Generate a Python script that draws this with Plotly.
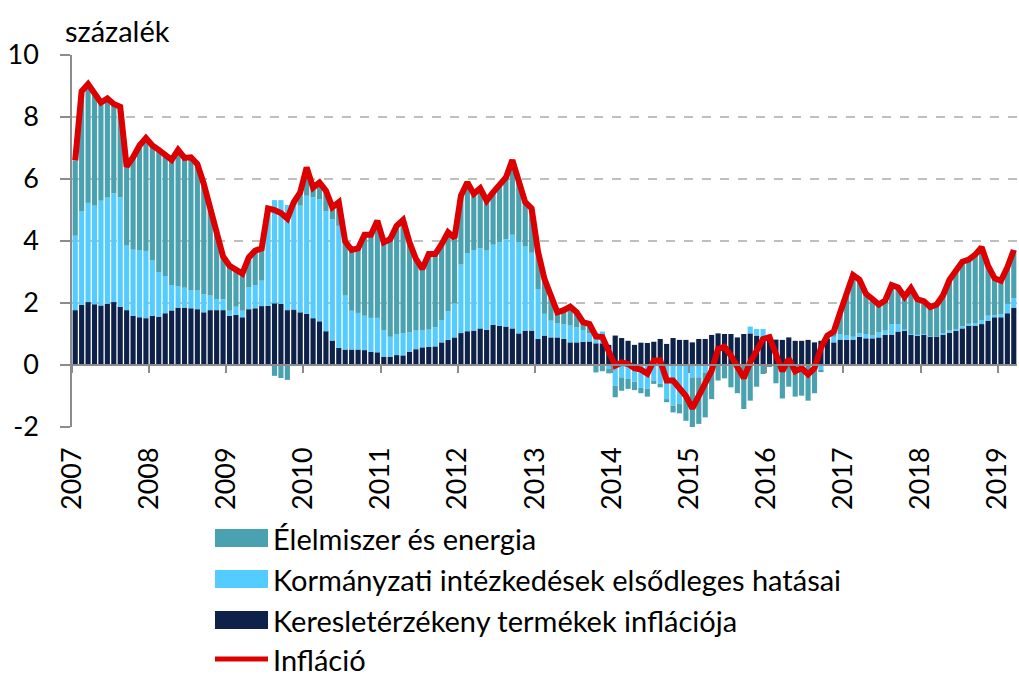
import plotly.graph_objects as go

# Monthly data, Jan 2007 - Mar 2019 (percent)
years = ["2007", "2008", "2009", "2010", "2011", "2012", "2013",
         "2014", "2015", "2016", "2017", "2018", "2019"]

demand = [
    1.77, 1.94, 2.03, 1.96, 1.92, 1.98, 2.03, 1.88, 1.77, 1.59, 1.54, 1.51,   # 2007
    1.59, 1.56, 1.67, 1.76, 1.85, 1.85, 1.83, 1.80, 1.70, 1.77, 1.77, 1.77,   # 2008
    1.59, 1.62, 1.54, 1.80, 1.83, 1.90, 1.91, 1.99, 1.97, 1.77, 1.79, 1.70,   # 2009
    1.65, 1.51, 1.41, 1.09, 0.79, 0.55, 0.50, 0.50, 0.50, 0.48, 0.43, 0.41,   # 2010
    0.27, 0.27, 0.32, 0.31, 0.43, 0.51, 0.57, 0.58, 0.60, 0.73, 0.81, 0.89,   # 2011
    1.03, 1.09, 1.11, 1.18, 1.13, 1.29, 1.26, 1.24, 1.18, 1.02, 1.11, 1.11,   # 2012
    0.84, 0.95, 0.89, 0.89, 0.84, 0.73, 0.73, 0.75, 0.76, 0.70, 0.70, 0.65,   # 2013
    0.95, 0.87, 0.78, 0.65, 0.72, 0.71, 0.75, 0.84, 0.68, 0.87, 0.81, 0.81,   # 2014
    0.73, 0.84, 0.84, 0.97, 1.02, 1.00, 1.00, 0.89, 1.00, 1.02, 0.95, 0.91,   # 2015
    0.95, 0.82, 0.81, 0.89, 0.78, 0.78, 0.81, 0.73, 0.78, 0.84, 0.73, 0.82,   # 2016
    0.81, 0.82, 0.91, 0.86, 0.86, 0.89, 0.97, 0.98, 1.08, 1.11, 0.98, 0.95,   # 2017
    0.98, 0.92, 0.91, 0.98, 1.04, 1.11, 1.18, 1.28, 1.27, 1.32, 1.43, 1.54,   # 2018
    1.54, 1.67, 1.85,                                                         # 2019
]

government = [
    2.40, 3.01, 3.20, 3.18, 3.38, 3.42, 3.51, 3.53, 2.08, 2.13, 2.17, 2.17,
    1.78, 1.44, 1.20, 0.82, 0.69, 0.64, 0.59, 0.60, 0.58, 0.47, 0.36, 0.35,
    0.16, 0.26, 0.21, 0.70, 0.75, 0.82, 3.09, 3.33, 3.35, 3.39, 3.40, 3.44,
    3.81, 3.90, 3.94, 3.87, 3.91, 3.94, 1.74, 1.25, 1.18, 1.11, 1.09, 1.11,
    0.86, 0.64, 0.68, 0.72, 0.62, 0.60, 0.56, 0.56, 0.62, 0.72, 0.92, 1.10,
    2.21, 2.52, 2.60, 2.59, 2.56, 2.59, 2.70, 2.82, 3.02, 2.93, 2.71, 2.51,
    1.61, 0.70, 0.54, 0.45, 0.48, 0.54, 0.49, 0.38, 0.26, 0.35, 0.38, -0.13,
    -0.67, -0.40, -0.45, -0.54, -0.74, -0.77, -0.50, -0.61, -1.10, -1.31, -1.26, -1.00,
    -0.40, -0.40, -0.24, -0.10, 0.00, 0.00, 0.00, 0.00, 0.00, 0.22, 0.21, 0.25,
    0.00, 0.00, 0.00, 0.00, 0.00, 0.00, 0.00, 0.00, -0.18, 0.05, 0.18, 0.18,
    0.14, 0.09, 0.11, 0.14, 0.09, 0.16, 0.14, 0.34, 0.24, 0.04, 0.02, 0.03,
    0.02, 0.01, 0.00, 0.05, 0.07, 0.05, 0.07, 0.05, 0.08, 0.13, 0.16, 0.07,
    0.10, 0.30, 0.30,
]

food_energy = [
    2.43, 3.88, 3.83, 3.60, 3.17, 3.20, 2.88, 2.92, 2.55, 2.98, 3.37, 3.64,
    3.71, 3.94, 3.88, 4.04, 4.40, 4.19, 4.28, 4.08, 3.56, 2.85, 2.10, 1.38,
    1.45, 1.17, 1.20, 0.97, 1.11, 1.04, 0.05, -0.35, -0.42, -0.48, 0.06, 0.43,
    0.91, 0.31, 0.54, 0.66, 0.39, 0.76, 1.74, 1.96, 2.08, 2.61, 2.68, 3.13,
    2.83, 3.15, 3.49, 3.65, 2.91, 2.31, 1.97, 2.44, 2.36, 2.45, 2.55, 2.11,
    2.22, 2.28, 1.81, 1.93, 1.61, 1.69, 1.82, 1.99, 2.41, 2.05, 1.43, 1.43,
    1.20, 1.12, 0.75, 0.36, 0.45, 0.61, 0.48, 0.25, 0.30, -0.24, -0.20, -0.14,
    -0.37, -0.43, -0.32, -0.27, -0.17, -0.25, -0.11, -0.11, -0.10, -0.22, -0.30, -0.80,
    -1.66, -1.50, -1.45, -1.00, -0.50, -0.43, -0.72, -0.91, -1.42, -1.15, -0.70, -0.29,
    -0.05, -0.59, -1.08, -0.70, -1.02, -0.99, -1.15, -0.91, -0.05, 0.10, 0.17, 0.70,
    1.35, 1.99, 1.73, 1.30, 1.18, 0.90, 0.97, 1.26, 1.18, 1.05, 1.48, 1.14,
    1.06, 0.94, 1.04, 1.22, 1.64, 1.89, 2.08, 2.07, 2.21, 2.35, 1.61, 1.19,
    1.08, 1.18, 1.56,
]

inflation = [
    6.60, 8.83, 9.06, 8.74, 8.47, 8.60, 8.42, 8.33, 6.40, 6.70, 7.08, 7.32,
    7.08, 6.94, 6.75, 6.62, 6.94, 6.68, 6.70, 6.48, 5.84, 5.09, 4.23, 3.50,
    3.20, 3.05, 2.95, 3.47, 3.69, 3.76, 5.05, 5.00, 4.90, 4.72, 5.25, 5.57,
    6.37, 5.72, 5.89, 5.62, 5.09, 5.25, 3.98, 3.71, 3.76, 4.20, 4.20, 4.65,
    3.96, 4.06, 4.49, 4.68, 3.96, 3.42, 3.10, 3.58, 3.58, 3.90, 4.28, 4.10,
    5.46, 5.89, 5.52, 5.70, 5.30, 5.57, 5.78, 6.05, 6.61, 6.00, 5.25, 5.05,
    3.65, 2.77, 2.18, 1.70, 1.77, 1.88, 1.70, 1.38, 1.32, 0.92, 0.90, 0.45,
    -0.02, 0.08, 0.03, -0.10, -0.15, -0.28, 0.14, 0.15, -0.50, -0.50, -0.75, -1.00,
    -1.40, -1.00, -0.56, -0.18, 0.52, 0.59, 0.30, -0.05, -0.42, 0.09, 0.50, 0.84,
    0.90, 0.30, -0.20, 0.20, -0.20, -0.10, -0.30, -0.10, 0.55, 0.95, 1.08, 1.70,
    2.30, 2.90, 2.75, 2.30, 2.13, 1.95, 2.08, 2.58, 2.50, 2.20, 2.48, 2.12,
    2.06, 1.87, 1.95, 2.25, 2.75, 3.05, 3.33, 3.40, 3.56, 3.80, 3.20, 2.80,
    2.72, 3.15, 3.71,
]

names = ["Élelmiszer és energia",
         "Kormányzati intézkedések elsődleges hatásai",
         "Keresletérzékeny termékek inflációja",
         "Infláció"]
colors = ["#4AA1B0", "#55CCFF", "#0E2148", "#DD0000"]

n = len(inflation)
xpos = [i + 0.5 for i in range(n)]
year_ticks = [12 * k for k in range(len(years))]

FONT = "Lato, 'Open Sans', sans-serif"
FS = 27      # axis tick labels
FS_TXT = 29  # legend and unit label

fig = go.Figure()
fig.add_trace(go.Bar(x=xpos, y=demand, name=names[2], marker=dict(color=colors[2], line=dict(width=0)), showlegend=False))
fig.add_trace(go.Bar(x=xpos, y=government, name=names[1], marker=dict(color=colors[1], line=dict(width=0)), showlegend=False))
fig.add_trace(go.Bar(x=xpos, y=food_energy, name=names[0], marker=dict(color=colors[0], line=dict(width=0)), showlegend=False))
fig.add_trace(go.Scatter(x=xpos, y=inflation, name=names[3], mode="lines",
                         line=dict(color=colors[3], width=6), showlegend=False))
# helper trace so the zero-level axis (ticks at year boundaries) is drawn
fig.add_trace(go.Scatter(x=[0], y=[0], xaxis="x2", mode="markers",
                         marker=dict(opacity=0), hoverinfo="skip", showlegend=False))

axis_grey = "#8C8C8C"
L, R, T, B = 72, 2, 55, 251
W, H = 1019, 678
fig.update_layout(
    width=W, height=H,
    margin=dict(l=L, r=R, t=T, b=B),
    plot_bgcolor="white", paper_bgcolor="white",
    barmode="relative", bargap=0.2,
    font=dict(family=FONT, size=FS, color="black"),
    xaxis=dict(range=[0, n], tickvals=year_ticks, ticktext=years, tickangle=-90,
               showgrid=False, zeroline=False, showline=False, ticks="",
               tickfont=dict(size=FS), ticklabelstandoff=14),
    xaxis2=dict(range=[0, n], overlaying="x", anchor="free", position=2 / 12,
                tickvals=year_ticks, showticklabels=False, ticks="outside",
                ticklen=7, tickwidth=2, tickcolor=axis_grey, showline=True,
                linecolor=axis_grey, linewidth=2, showgrid=False, zeroline=False),
    yaxis=dict(range=[-2, 10], tickvals=[-2, 0, 2, 4, 6, 8, 10],
               ticktext=["-2", "0", "2", "4", "6", "8", "10"],
               showgrid=True, gridcolor="#BFBFBF", griddash="dash", gridwidth=1.5,
               zeroline=False, showline=True, linecolor=axis_grey, linewidth=1.5,
               ticks="outside", ticklen=10, tickcolor=axis_grey, tickwidth=1.5,
               tickfont=dict(size=FS), ticklabelstandoff=16),
)

plot_w = W - L - R
plot_h = H - T - B
def px_to_paper(px, py):
    return (px - L) / plot_w, (H - B - py) / plot_h

sx, sy = px_to_paper(63, 30)
fig.add_annotation(text="százalék", xref="paper", yref="paper",
                   x=sx, y=sy, xanchor="left", yanchor="middle",
                   showarrow=False, font=dict(size=FS_TXT))

# Manual legend (Excel-style wide swatches)
legend_rows = [(names[0], colors[0], "bar", 538),
               (names[1], colors[1], "bar", 579),
               (names[2], colors[2], "bar", 620),
               (names[3], colors[3], "line", 659)]
for label, col, kind, cy in legend_rows:
    x0, ya = px_to_paper(215, cy - 9)
    x1, yb = px_to_paper(268, cy + 9)
    if kind == "bar":
        fig.add_shape(type="rect", xref="paper", yref="paper", x0=x0, x1=x1,
                      y0=yb, y1=ya, fillcolor=col, line=dict(width=0))
    else:
        ym = px_to_paper(0, cy)[1]
        fig.add_shape(type="line", xref="paper", yref="paper", x0=x0, x1=x1,
                      y0=ym, y1=ym, line=dict(color=col, width=5))
    tx, ty = px_to_paper(271, cy)
    fig.add_annotation(text=label, xref="paper", yref="paper", x=tx, y=ty,
                       xanchor="left", yanchor="middle", showarrow=False,
                       font=dict(size=FS_TXT))

fig.write_html("out.html", config={"displayModeBar": False},
               post_script="document.body.style.margin='0';document.body.style.overflow='hidden';")
